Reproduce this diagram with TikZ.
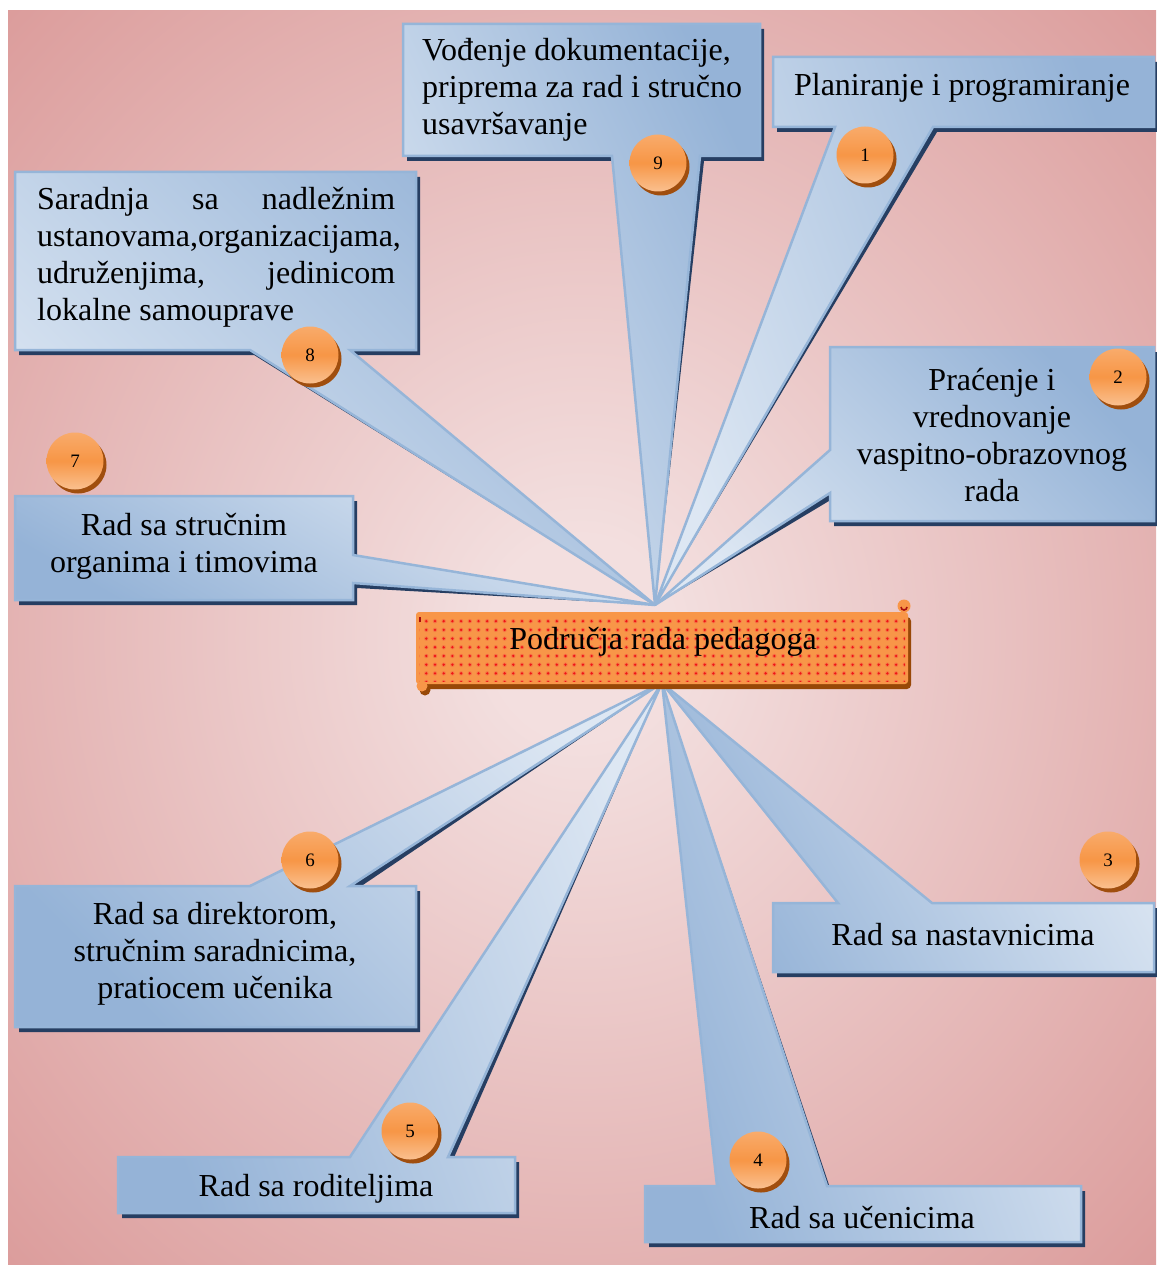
\documentclass[tikz,border=0pt]{standalone}
\usepackage{fontspec}
\setmainfont{Liberation Serif}
\usetikzlibrary{patterns.meta,shadows}

\definecolor{bgin}{RGB}{243,223,223}
\definecolor{bgout}{RGB}{217,149,148}
\definecolor{boxlight}{RGB}{221,231,243}
\definecolor{boxdark}{RGB}{149,179,215}
\definecolor{boxedge}{RGB}{150,181,216}
\definecolor{boxshadow}{RGB}{38,62,98}
\definecolor{ballmid}{RGB}{247,150,70}
\definecolor{ballbot}{RGB}{250,192,143}
\definecolor{ballshadow}{RGB}{160,78,14}
\definecolor{bannerfill}{RGB}{248,150,72}
\definecolor{bannerdot}{RGB}{240,20,20}
\definecolor{bannerhalo}{RGB}{246,118,70}
\definecolor{bannershadow}{RGB}{152,72,7}

\pgfdeclareradialshading{bgglow}{\pgfpoint{0bp}{0bp}}{color(0bp)=(bgin); color(4bp)=(bgin); color(39bp)=(bgout); color(80bp)=(bgout)}

\tikzset{
  callout/.style={draw=boxedge, line width=2.5pt, line join=miter},
  calloutshadow/.style={fill=boxshadow, shift={(4,5)}},
  upshade/.style={top color=boxdark, bottom color=boxlight, shading angle=#1},
  downshade/.style={top color=boxlight, bottom color=boxdark, shading angle=#1},
  lbl/.style={font=\fontsize{32}{37}\selectfont, align=center, inner sep=0pt},
  numball/.style={circle, minimum size=57pt, inner sep=0pt,
    font=\fontsize{19}{19}\selectfont,
    top color=ballmid!80!white, bottom color=ballbot, middle color=ballmid,
    drop shadow={shadow xshift=3pt, shadow yshift=-4pt, fill=ballshadow, opacity=1}},
}

\begin{document}
\begin{tikzpicture}[x=1pt, y=-1pt]
\useasboundingbox (0,0) rectangle (1156,1265);
\fill[white] (0,0) rectangle (1156,1265);
\shade[shading=bgglow] (8,11) rectangle (1156,1265);

% points where the wedges of the callouts meet
\coordinate (hubtop) at (655,605);
\coordinate (hubbot) at (662,683);

% callout 1
\fill[calloutshadow] (773,57) -- (1154,57) -- (1154,127) -- (933,127) -- (hubtop) -- (835,127) -- (773,127) -- cycle;
\draw[callout, upshade=-70] (773,57) -- (1154,57) -- (1154,127) -- (933,127) -- (hubtop) -- (835,127) -- (773,127) -- cycle;
% callout 2
\fill[calloutshadow] (830,347) -- (1154,347) -- (1154,521) -- (830,521) -- (830,493) -- (hubtop) -- (830,450) -- cycle;
\draw[callout, upshade=-45] (830,347) -- (1154,347) -- (1154,521) -- (830,521) -- (830,493) -- (hubtop) -- (830,450) -- cycle;
% callout 3
\fill[calloutshadow] (773,903) -- (838,903) -- (hubbot) -- (932,903) -- (1154,903) -- (1154,972) -- (773,972) -- cycle;
\draw[callout, downshade=-60] (773,903) -- (838,903) -- (hubbot) -- (932,903) -- (1154,903) -- (1154,972) -- (773,972) -- cycle;
% callout 4
\fill[calloutshadow] (645,1186) -- (717,1186) -- (hubbot) -- (827,1186) -- (1081,1186) -- (1081,1242) -- (645,1242) -- cycle;
\draw[callout, downshade=-70] (645,1186) -- (717,1186) -- (hubbot) -- (827,1186) -- (1081,1186) -- (1081,1242) -- (645,1242) -- cycle;
% callout 5
\fill[calloutshadow] (118,1157) -- (350,1157) -- (hubbot) -- (448,1157) -- (515,1157) -- (515,1213) -- (118,1213) -- cycle;
\draw[callout, downshade=-70] (118,1157) -- (350,1157) -- (hubbot) -- (448,1157) -- (515,1157) -- (515,1213) -- (118,1213) -- cycle;
% callout 6
\fill[calloutshadow] (15,886) -- (250,886) -- (hubbot) -- (350,886) -- (416,886) -- (416,1027) -- (15,1027) -- cycle;
\draw[callout, downshade=-45] (15,886) -- (250,886) -- (hubbot) -- (350,886) -- (416,886) -- (416,1027) -- (15,1027) -- cycle;
% callout 7
\fill[calloutshadow] (15,496) -- (353,496) -- (353,555) -- (hubtop) -- (353,583) -- (353,600) -- (15,600) -- cycle;
\draw[callout, downshade=-30] (15,496) -- (353,496) -- (353,555) -- (hubtop) -- (353,583) -- (353,600) -- (15,600) -- cycle;
% callout 8
\fill[calloutshadow] (15,172) -- (416,172) -- (416,350) -- (350,350) -- (hubtop) -- (250,350) -- (15,350) -- cycle;
\draw[callout, upshade=-45] (15,172) -- (416,172) -- (416,350) -- (350,350) -- (hubtop) -- (250,350) -- (15,350) -- cycle;
% callout 9
\fill[calloutshadow] (403,24) -- (760,24) -- (760,156) -- (700,156) -- (hubtop) -- (612,156) -- (403,156) -- cycle;
\draw[callout, upshade=-65] (403,24) -- (760,24) -- (760,156) -- (700,156) -- (hubtop) -- (612,156) -- (403,156) -- cycle;

% callout texts
\node[lbl] (t1) at (962,88) {Planiranje i programiranje};
\node[lbl] (t2) at (992,435) {Praćenje i\\vrednovanje\\vaspitno-obrazovnog\\rada};
\node[lbl] (t3) at (963,935) {Rad sa nastavnicima};
\node[lbl] (t4) at (862,1218) {Rad sa učenicima};
\node[lbl] (t5) at (316,1189) {Rad sa roditeljima};
\node[lbl] (t6) at (215,954) {Rad sa direktorom,\\stručnim saradnicima,\\pratiocem učenika};
\node[lbl] (t7) at (184,546) {Rad sa stručnim\\organima i timovima};
\node[lbl, align=left, anchor=west] (t8) at (37,257)
  {\hbox to 358pt{Saradnja\hfill sa\hfill nadležnim}\\
   \hbox to 358pt{ustanovama,organizacijama,\hss}\\
   \hbox to 358pt{udruženjima,\hfill jedinicom}\\
   lokalne samouprave};
\node[lbl, align=left, anchor=west] (t9) at (422,90) {Vođenje dokumentacije,\\priprema za rad i stručno\\usavršavanje};

% numbered badges
\node[numball] (n1) at (865,155) {1};
\node[numball] (n2) at (1118,377) {2};
\node[numball] (n3) at (1108,860) {3};
\node[numball] (n4) at (758,1160) {4};
\node[numball] (n5) at (410,1131) {5};
\node[numball] (n6) at (310,860) {6};
\node[numball] (n7) at (75,461) {7};
\node[numball] (n8) at (310,355) {8};
\node[numball] (n9) at (658,163) {9};

% central scroll banner
\fill[bannershadow, rounded corners=4pt] (419,617) rectangle (911,689);
\fill[bannershadow] (425,690) circle (5.5);
\fill[bannerfill, rounded corners=3pt] (416,612) rectangle (908,684);
\fill[bannerfill] (422,686) circle (5.5);
\fill[bannerfill] (904,606) circle (6.5);
\draw[bannerdot!70!black, line width=1.6pt] (901,607) arc[start angle=180, end angle=0, radius=3];
\fill[pattern={Dots[distance=8.7pt, radius=2.2pt]}, pattern color=bannerhalo] (419,615) rectangle (905,681);
\fill[pattern={Dots[distance=8.7pt, radius=1.3pt]}, pattern color=bannerdot] (419,615) rectangle (905,681);
\fill[bannerdot!70!black] (419,617) rectangle (421,622);
\node[lbl] (hub) at (663,642) {Područja rada pedagoga};
\end{tikzpicture}
\end{document}
